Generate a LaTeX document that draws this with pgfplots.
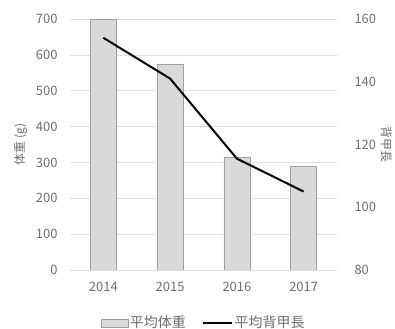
\documentclass[border=0pt]{standalone}
\usepackage{pgfplots}
\pgfplotsset{compat=1.18}
\usepackage{fontspec}
\setmainfont{Noto Sans CJK JP}
\definecolor{tickgray}{RGB}{110,110,110}
\definecolor{barfill}{RGB}{217,217,217}
\definecolor{bardraw}{RGB}{160,160,160}
\definecolor{gridc}{RGB}{222,222,222}
\begin{document}
\begin{tikzpicture}[x=1bp,y=1bp]
\path[use as bounding box] (0,0) rectangle (395bp,329bp);
\begin{axis}[
  at={(70bp,59bp)}, anchor=south west,
  scale only axis, width=267bp, height=251bp,
  xmin=-0.5, xmax=3.5, ymin=0, ymax=700,
  xtick={0,1,2,3}, xticklabels={2014,2015,2016,2017},
  ytick={0,100,...,700},
  axis y line*=left, axis x line*=bottom,
  axis line style={draw=none},
  x axis line style={draw=gridc},
  tick style={draw=none},
  ymajorgrids, grid style={gridc, line width=0.6pt},
  ticklabel style={font=\fontsize{13}{14}\selectfont, text=tickgray},
  /pgf/number format/assume math mode=true,
  yticklabel style={xshift=-9bp},
  xticklabel style={yshift=-9bp},
  ylabel={体重 (g)}, ylabel style={font=\fontsize{12}{13}\selectfont, text=tickgray, yshift=2bp},
]
\addplot[ybar, bar width=26bp, fill=barfill, draw=bardraw] coordinates {(0,700) (1,575) (2,315) (3,290)};
\end{axis}
\begin{axis}[
  at={(70bp,59bp)}, anchor=south west,
  scale only axis, width=267bp, height=251bp,
  xmin=-0.5, xmax=3.5, ymin=80, ymax=160,
  ytick={80,100,...,160},
  axis y line*=right, axis x line=none,
  axis line style={draw=none},
  tick style={draw=none},
  ticklabel style={font=\fontsize{13}{14}\selectfont, text=tickgray},
  /pgf/number format/assume math mode=true,
  yticklabel style={xshift=14bp},
  ylabel={背甲長}, ylabel style={font=\fontsize{12}{13}\selectfont, text=tickgray, rotate=180, yshift=-2bp},
  legend style={at={(0.5,-0.175)}, anchor=north, draw=none, legend columns=2,
    font=\fontsize{14}{15}\selectfont, text=tickgray,
    /tikz/every even column/.append style={column sep=14bp},
    inner sep=0pt},
]
\addlegendimage{legend image code/.code={\draw[fill=barfill, draw=bardraw] (0bp,-4bp) rectangle (27bp,4bp);}}
\addlegendentry{平均体重}
\addplot[black, line width=2pt, legend image code/.code={\draw[black, line width=2pt] (0bp,0bp) -- (29bp,0bp);}] coordinates {(0,154) (1,141) (2,115.5) (3,105)};
\addlegendentry{平均背甲長}
\end{axis}
\end{tikzpicture}
\end{document}
